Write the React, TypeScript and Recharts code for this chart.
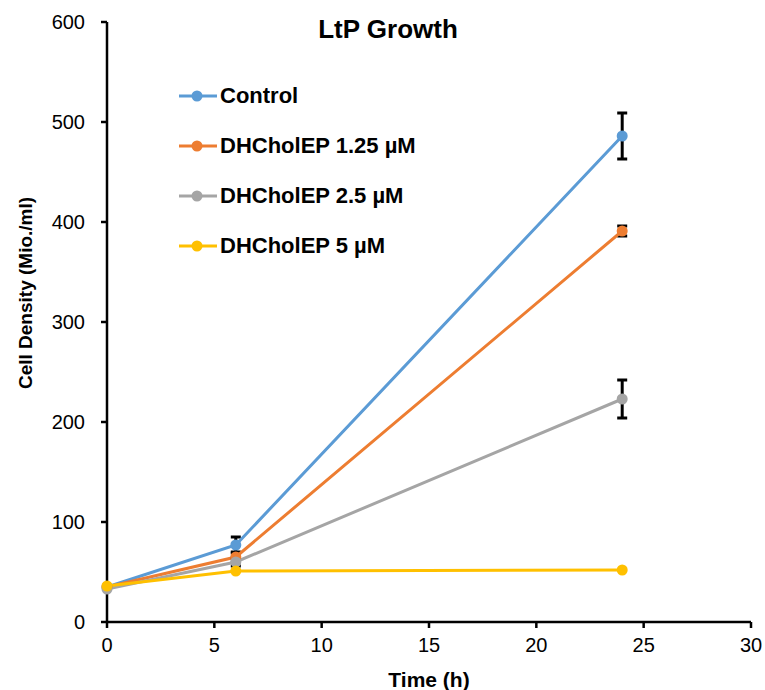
import React from 'react';
import {
  LineChart,
  Line,
  XAxis,
  YAxis,
  ErrorBar,
  Label
} from 'recharts';

const times = [0, 6, 24];
const control = [35, 77, 486];
const controlErr = [null, 8, 23];
const dh125 = [35, 65, 391];
const dh125Err = [null, 5, 5];
const dh25 = [33, 60, 223];
const dh25Err = [null, 4, 19];
const dh5 = [36, 51, 52];
const dh5Err = [null, null, null];
const xTicks = [0, 5, 10, 15, 20, 25, 30];
const yTicks = [0, 100, 200, 300, 400, 500, 600];

const series = [
  { key: 'control', name: 'Control', color: '#5B9BD5', values: control, errors: controlErr },
  { key: 'dh125', name: 'DHCholEP 1.25 µM', color: '#ED7D31', values: dh125, errors: dh125Err },
  { key: 'dh25', name: 'DHCholEP 2.5 µM', color: '#A5A5A5', values: dh25, errors: dh25Err },
  { key: 'dh5', name: 'DHCholEP 5 µM', color: '#FFC000', values: dh5, errors: dh5Err }
];

const data = times.map((t, i) => {
  const row: Record<string, number | null> = { time: t };
  series.forEach((s) => {
    row[s.key] = s.values[i];
    row[s.key + 'Err'] = s.errors[i];
  });
  return row;
});

const font = '"Liberation Sans", Arial, sans-serif';

// legend sits inside the plot area, drawn as plain html on top of the chart
function LegendBox() {
  return (
    <div style={{ position: 'absolute', left: 179, top: 71, fontFamily: font, zIndex: 2 }}>
      {series.map((s) => (
        <div key={s.key} style={{ display: 'flex', alignItems: 'center', height: 50 }}>
          <svg width={41} height={14}>
            <line x1={0} y1={7} x2={38} y2={7} stroke={s.color} strokeWidth={3} />
            <circle cx={18} cy={7} r={5.5} fill={s.color} />
          </svg>
          <span style={{ fontSize: 22, fontWeight: 'bold', color: '#000' }}>{s.name}</span>
        </div>
      ))}
    </div>
  );
}

export default function App() {
  return (
    <div style={{ position: 'absolute', left: 0, top: 0, width: 765, height: 690, background: '#fff' }}>
      <div
        style={{
          position: 'absolute',
          left: 188,
          top: 16,
          width: 400,
          textAlign: 'center',
          fontFamily: font,
          fontWeight: 'bold',
          fontSize: 26,
          lineHeight: '26px',
          zIndex: 2
        }}
      >
        LtP Growth
      </div>
      <LegendBox />
      <LineChart
        width={765}
        height={690}
        data={data}
        margin={{ top: 22, right: 14, bottom: 0, left: 0 }}
        style={{ fontFamily: font }}
      >
        <XAxis
          dataKey="time"
          type="number"
          domain={[0, 30]}
          ticks={xTicks}
          height={68}
          stroke="#000"
          strokeWidth={2.5}
          tickSize={6}
          tickMargin={10}
          tick={{ fill: '#000', fontSize: 20 }}
        >
          <Label
            value="Time (h)"
            position="insideBottom"
            offset={3}
            style={{ fontWeight: 'bold', fontSize: 21, fill: '#000' }}
          />
        </XAxis>
        <YAxis
          type="number"
          domain={[0, 600]}
          ticks={yTicks}
          width={107}
          stroke="#000"
          strokeWidth={2.5}
          tickSize={6}
          tickMargin={16}
          tick={{ fill: '#000', fontSize: 20 }}
        >
          <Label
            content={() => (
              <text
                x={25}
                y={293}
                transform="rotate(-90 25 293)"
                textAnchor="middle"
                dominantBaseline="central"
                style={{ fontWeight: 'bold', fontSize: 19, fill: '#000', fontFamily: font }}
              >
                Cell Density (Mio./ml)
              </text>
            )}
          />
        </YAxis>
        {series.map((s) => (
          <Line
            key={s.key}
            dataKey={s.key}
            name={s.name}
            type="linear"
            stroke={s.color}
            strokeWidth={3}
            dot={{ r: 5.5, fill: s.color, stroke: s.color, strokeWidth: 0 }}
            activeDot={false}
            isAnimationActive={false}
          >
            <ErrorBar dataKey={s.key + 'Err'} direction="y" width={5} stroke="#000" strokeWidth={3} />
          </Line>
        ))}
      </LineChart>
    </div>
  );
}
